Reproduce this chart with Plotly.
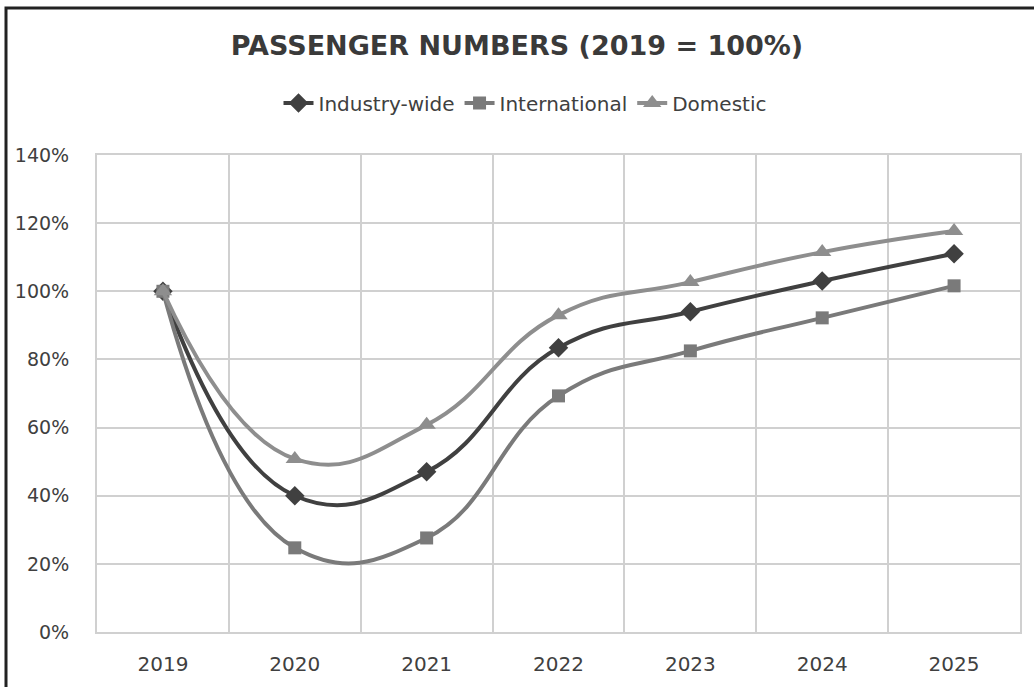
import plotly.graph_objects as go

years = ["2019", "2020", "2021", "2022", "2023", "2024", "2025"]
industry = [100, 40, 47, 83.4, 94, 103, 111]
international = [100, 24.7, 27.6, 69.3, 82.5, 92.2, 101.6]
domestic = [100, 50.8, 60.8, 93, 102.7, 111.5, 117.7]
y_ticks = [0, 20, 40, 60, 80, 100, 120, 140]

series = [
    ("Industry-wide", industry, "#404040", "diamond", 15),
    ("International", international, "#7a7a7a", "square", 13),
    ("Domestic", domestic, "#8e8e8e", "triangle-up", 16),
]

FONT = "DejaVu Sans"

fig = go.Figure()
for name, vals, col, sym, sz in series:
    fig.add_trace(go.Scatter(
        x=years, y=vals, name=name, mode="lines+markers",
        line=dict(color=col, width=4, shape="spline", smoothing=1.3),
        marker=dict(symbol=sym, size=sz, color=col),
    ))

L, R, T, B = 97, 14, 155, 55
W, H = 1034, 687
pw, ph = W - L - R, H - T - B

def px_x(x):
    return (x - L) / pw

def px_y(y):
    return (H - B - y) / ph

fig.update_layout(
    width=W, height=H,
    margin=dict(l=L, r=R, t=T, b=B),
    paper_bgcolor="white", plot_bgcolor="white",
    font=dict(family=FONT, color="#404040"),
    title=dict(text="<b>PASSENGER NUMBERS (2019 = 100%)</b>", x=0.5, xanchor="center",
               y=1 - 46 / H, yanchor="middle",
               font=dict(size=27, color="#3a3a3a", family=FONT)),
    legend=dict(orientation="h", x=px_x(525), xanchor="center", y=px_y(103), yanchor="middle",
                font=dict(size=20, color="#404040", family=FONT), traceorder="normal"),
    showlegend=True,
    shapes=[dict(type="rect", xref="paper", yref="paper",
                 x0=px_x(6), x1=px_x(1045), y0=px_y(700), y1=px_y(8),
                 line=dict(color="#222222", width=3), fillcolor="rgba(0,0,0,0)", layer="above")],
)
fig.update_xaxes(type="category", tickson="boundaries", range=[-0.5, 6.5],
                 showgrid=True, gridcolor="#d0d0d0", gridwidth=2,
                 showline=True, linecolor="#d0d0d0", linewidth=2, mirror=True,
                 ticks="", tickfont=dict(size=20, color="#404040", family=FONT),
                 ticklabelstandoff=13, zeroline=False)
fig.update_yaxes(range=[0, 140], tickvals=y_ticks, ticktext=[f"{v}%" for v in y_ticks],
                 showgrid=True, gridcolor="#d0d0d0", gridwidth=2,
                 showline=True, linecolor="#d0d0d0", linewidth=2, mirror=True,
                 ticks="", tickfont=dict(size=19, color="#404040", family=FONT),
                 ticklabelstandoff=22, zeroline=False)

fig.write_html("out.html")
